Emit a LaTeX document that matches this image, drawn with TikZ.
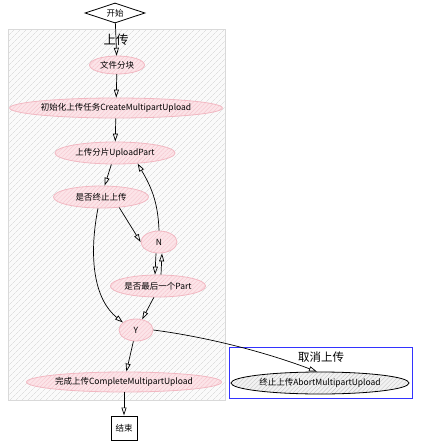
\documentclass[tikz,border=0pt]{standalone}
\usepackage{fontspec}
\setmainfont{Noto Sans CJK SC}
\usetikzlibrary{arrows.meta,patterns.meta,shapes.geometric}
\definecolor{pinkbd}{HTML}{F2B8C2}
\definecolor{pinkfl}{HTML}{FCE4E8}
\definecolor{pinkht}{HTML}{F5C6CF}
\begin{document}
\begin{tikzpicture}[x=1pt,y=-1pt,
  every node/.style={font=\fontsize{8.5}{10}\selectfont, inner sep=0pt},
  pinkell/.style={ellipse, draw=pinkbd, line width=0.8pt,
    preaction={fill=pinkfl}, pattern={Lines[angle=45,distance=3pt,line width=0.4pt]}, pattern color=pinkht,
    minimum height=21pt},
  cluster/.style={draw=gray!30, line width=1.2pt, preaction={fill=gray!4},
    pattern={Lines[angle=45,distance=4pt,line width=0.35pt]}, pattern color=gray!35},
  arr/.style={draw=black, line width=0.7pt, -{Triangle[open,length=8pt,width=5pt,line width=0.7pt]}}
  ]
\useasboundingbox (0,0) rectangle (420,444);
% clusters
\node[cluster, minimum width=217pt, minimum height=371pt, anchor=north west] (up) at (8,29) {};
\node[font=\fontsize{12.5}{14}\selectfont] (uptitle) at (116,40) {上传};
\node[draw=blue!80, line width=1pt, fill=white, minimum width=183pt, minimum height=51pt, anchor=north west] (cancel) at (229,347) {};
\node[font=\fontsize{11.5}{13}\selectfont] (cantitle) at (321,357) {取消上传};
% nodes
\node[diamond, aspect=3, draw, line width=0.8pt, fill=white, minimum width=60pt, minimum height=20pt] (start) at (115,13) {开始};
\node[pinkell, minimum width=55pt, minimum height=18pt] (split) at (117,65) {文件分块};
\node[pinkell, minimum width=208pt, minimum height=20pt] (init) at (116,108) {初始化上传任务CreateMultipartUpload};
\node[pinkell, minimum width=120pt, minimum height=22pt] (part) at (115,153) {上传分片UploadPart};
\node[pinkell, minimum width=95pt, minimum height=22pt] (abortq) at (101,197) {是否终止上传};
\node[pinkell, minimum width=36pt, minimum height=22pt] (n) at (159,242) {N};
\node[pinkell, minimum width=94pt, minimum height=22pt] (lastq) at (158,286) {是否最后一个Part};
\node[pinkell, minimum width=34pt, minimum height=22pt] (y) at (136,330) {Y};
\node[pinkell, minimum width=195pt, minimum height=20pt] (complete) at (124,382) {完成上传CompleteMultipartUpload};
\node[ellipse, draw, line width=0.8pt, preaction={fill=gray!10}, pattern={Lines[angle=45,distance=3pt,line width=0.4pt]}, pattern color=gray!45, minimum width=178pt, minimum height=22pt] (abort) at (320,383) {终止上传AbortMultipartUpload};
\node[draw, line width=1pt, fill=white, minimum width=26pt, minimum height=24pt] (end) at (124,428) {结束};
% edges
\draw[arr] (start) -- (split);
\draw[arr] (split) -- (init);
\draw[arr] (init) -- (part);
\draw[arr] (part) -- (abortq);
\draw[arr] (abortq.-30) -- (n.west);
\draw[arr] (n.north) .. controls (158,200) and (150,185) .. (part.-25);
\draw[arr] ([xshift=-3pt]n.south) -- ([xshift=-3pt]lastq.north);
\draw[arr] ([xshift=3pt]lastq.north) -- ([xshift=3pt]n.south);
\draw[arr] (abortq.-105) .. controls (88,260) and (95,300) .. (y.150);
\draw[arr] (lastq.-110) -- (y.60);
\draw[arr] (y) -- (complete);
\draw[arr] (complete) -- (end);
\draw[arr] (y.east) .. controls (200,336) and (260,350) .. (abort.105);
\end{tikzpicture}
\end{document}
